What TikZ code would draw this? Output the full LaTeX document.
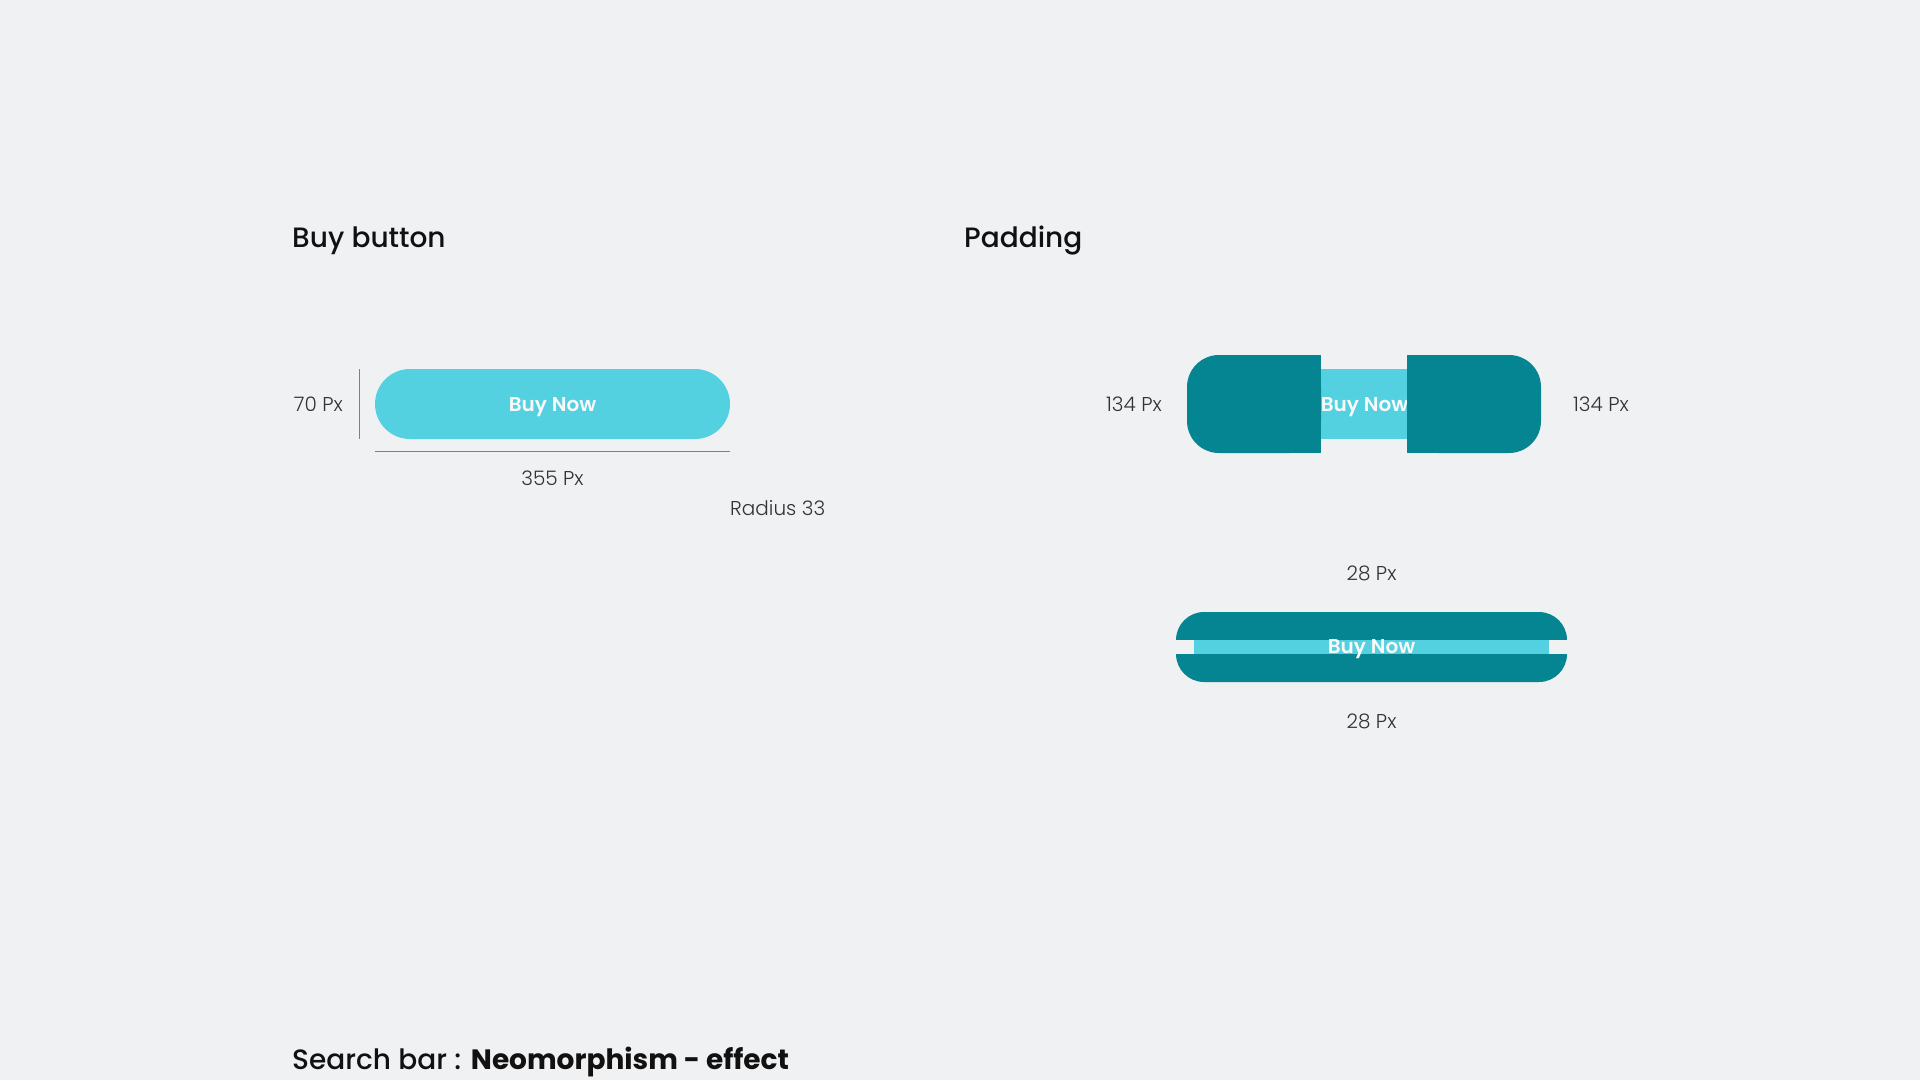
\documentclass[tikz,border=0pt]{standalone}
\usepackage{fontspec}
\setmainfont{Poppins}
\newfontfamily\plight{Poppins Light}
\newfontfamily\pmed{Poppins Medium}
\newfontfamily\psemi{Poppins SemiBold}
\newfontfamily\pbold{Poppins Bold}
\definecolor{bgc}{HTML}{F0F1F3}
\definecolor{cyanbtn}{HTML}{53D1E0}
\definecolor{tealdark}{HTML}{058491}
\definecolor{labelc}{HTML}{333333}
\definecolor{titlec}{HTML}{111111}
\definecolor{linec}{HTML}{808080}
\begin{document}
\begin{tikzpicture}[x=1pt,y=-1pt,
  title/.style={anchor=base west,inner sep=0pt,text=titlec,font=\pmed\fontsize{28}{32}\selectfont},
  dimlabel/.style={anchor=base,inner sep=0pt,text=labelc,font=\plight\fontsize{20}{24}\selectfont},
  btntext/.style={anchor=base,inner sep=0pt,text=white!95!gray,font=\psemi\fontsize{20}{24}\selectfont},
  dimline/.style={draw=linec,line width=1pt},
]
\fill[bgc] (0,0) rectangle (1920,1080);
\useasboundingbox (0,0) rectangle (1920,1080);

% titles
\node[title] (t1) at (292,247) {Buy button};
\node[title] (t2) at (964,247) {Padding};
\node[title] (t3) at (292,1069) {Search bar : {\pbold Neomorphism - effect}};

% buy button
\node[fill=cyanbtn,rounded corners=35pt,minimum width=355pt,minimum height=70pt,inner sep=0pt] (btn) at (552.5,404) {};
\node[btntext] (btnt) at (552.5,411) {Buy Now};
\coordinate (vt) at (359.5,369);
\coordinate (vb) at (359.5,439);
\draw[dimline] (vt) -- (vb);
\coordinate (hl) at (375,451);
\coordinate (hr) at (730,451);
\draw[dimline] (hl) -- (hr);
\node[dimlabel,anchor=base east] (h70) at (343,411.5) {70 Px};
\node[dimlabel] (w355) at (552.5,485.5) {355 Px};
\node[dimlabel,anchor=base west] (rad) at (730,515) {Radius 33};

% padding horizontal
\fill[cyanbtn] (1315,369) rectangle (1412,439);
\node[btntext] (pbt) at (1364.5,411) {Buy Now};
\fill[tealdark,rounded corners=32pt] (1187,355) rectangle (1321,453);
\fill[tealdark] (1270,355) rectangle (1321,453);
\fill[tealdark,rounded corners=32pt] (1407,355) rectangle (1541,453);
\fill[tealdark] (1407,355) rectangle (1460,453);
\node[dimlabel] (p134l) at (1134,411) {134 Px};
\node[dimlabel] (p134r) at (1601,411) {134 Px};

% padding vertical
\fill[tealdark,rounded corners=28pt] (1176,612) rectangle (1567,682);
\fill[bgc] (1170,640) rectangle (1573,654);
\fill[cyanbtn] (1194,640) rectangle (1549,654);
\node[btntext] (pvt) at (1371.5,653.5) {Buy Now};
\node[dimlabel] (p28t) at (1371.5,580) {28 Px};
\node[dimlabel] (p28b) at (1371.5,728.5) {28 Px};
\end{tikzpicture}
\end{document}
